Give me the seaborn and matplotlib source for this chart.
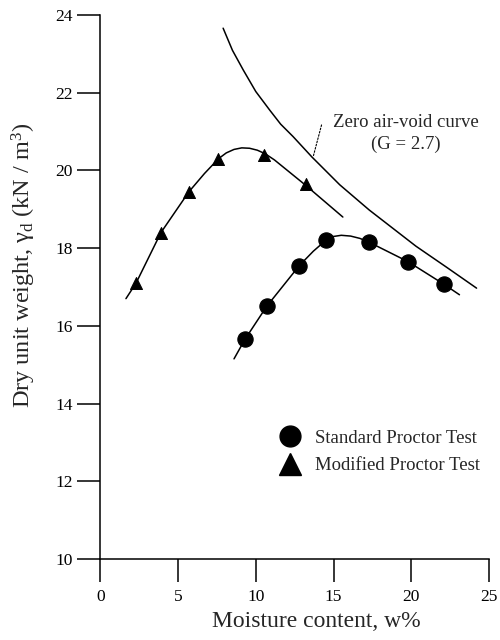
import matplotlib
matplotlib.use("Agg")
import matplotlib.pyplot as plt
from matplotlib.lines import Line2D
import seaborn as sns

# ---- data ----
std_w = [9.3, 10.7, 12.8, 14.5, 17.3, 19.8, 22.1]
std_gd = [15.65, 16.5, 17.55, 18.2, 18.15, 17.65, 17.07]

mod_w = [2.3, 3.9, 5.7, 7.6, 10.5, 13.2]
mod_gd = [17.1, 18.4, 19.45, 20.3, 20.4, 19.65]

std_curve_w = [8.6, 9.3, 10.7, 12.8, 13.7, 14.5, 15.0, 15.5, 16.1, 16.7, 17.3, 19.8, 22.1, 23.1]
std_curve_gd = [15.15, 15.65, 16.5, 17.55, 17.92, 18.2, 18.3, 18.33, 18.31, 18.25, 18.15, 17.65, 17.07, 16.8]

mod_curve_w = [1.65, 2.3, 3.9, 5.7, 6.7, 7.6, 8.1, 8.6, 9.1, 9.6, 10.1, 10.6, 11.2, 13.2, 15.6]
mod_curve_gd = [16.7, 17.1, 18.4, 19.45, 19.92, 20.3, 20.45, 20.54, 20.58, 20.57, 20.52, 20.43, 20.27, 19.62, 18.8]

zav_w = [7.9, 8.5, 9.2, 10.0, 10.9, 11.6, 12.4, 13.6, 15.4, 17.3, 20.3, 22.3, 24.2]
zav_gd = [23.66, 23.09, 22.58, 22.03, 21.55, 21.19, 20.87, 20.35, 19.63, 18.98, 18.05, 17.5, 16.97]

x_ticks = [0, 5, 10, 15, 20, 25]
y_ticks = [10, 12, 14, 16, 18, 20, 22, 24]

labels = ["Standard Proctor Test", "Modified Proctor Test"]
zav_label = "Zero air-void curve\n(G = 2.7)"

# ---- style ----
sns.set_theme(style="ticks")
plt.rcParams["font.family"] = ["Liberation Serif", "DejaVu Serif"]
plt.rcParams["mathtext.fontset"] = "custom"
plt.rcParams["mathtext.rm"] = "Liberation Serif"
plt.rcParams["mathtext.it"] = "Liberation Serif:italic"
plt.rcParams["axes.linewidth"] = 1.1
plt.rcParams["axes.edgecolor"] = "black"

fig = plt.figure(figsize=(5, 6.4), dpi=100)
ax = fig.add_axes([0.2006, 0.1266, 0.7774, 0.85])

lw = 1.1
sns.lineplot(x=zav_w, y=zav_gd, sort=False, estimator=None, color="black", lw=lw, ax=ax)
sns.lineplot(x=std_curve_w, y=std_curve_gd, sort=False, estimator=None, color="black", lw=lw, ax=ax)
sns.lineplot(x=mod_curve_w, y=mod_curve_gd, sort=False, estimator=None, color="black", lw=lw, ax=ax)

sns.scatterplot(x=std_w, y=std_gd, marker="o", s=120, color="black", edgecolor="black", ax=ax, zorder=3)
sns.scatterplot(x=mod_w, y=mod_gd, marker="^", s=75, color="black", edgecolor="black", ax=ax, zorder=3)

ax.set_xlim(0, 25)
ax.set_ylim(10, 24)
ax.set_xticks(x_ticks)
ax.set_yticks(y_ticks)
sns.despine(ax=ax)
ax.tick_params(axis="both", direction="out", length=16.5, width=1.1, colors="black", labelsize=12.5)
ax.tick_params(axis="y", pad=3.5)
ax.tick_params(axis="x", pad=5)

ax.set_xlabel("Moisture content, w%", fontsize=17)
ax.set_ylabel("Dry unit weight, γ$_\\mathrm{d}$ (kN / m$^3$)", fontsize=17.5)
ax.xaxis.set_label_coords(0.557, -0.095)
ax.yaxis.set_label_coords(-0.16, 0.54)

ax.text(19.65, 20.95, zav_label, ha="center", va="center", fontsize=13.5,
        multialignment="center", linespacing=1.38)
ax.annotate("", xy=(13.69, 20.35), xytext=(14.23, 21.17),
            arrowprops=dict(arrowstyle="-", ls=(0, (1.5, 1.5)), lw=0.8, color="black",
                            shrinkA=0, shrinkB=0))

handles = [Line2D([], [], ls="", marker="o", color="black", markersize=15),
           Line2D([], [], ls="", marker="^", color="black", markersize=16)]
ax.legend(handles, labels, loc="center left", bbox_to_anchor=(0.465, 0.197),
          frameon=False, fontsize=13.5, handlelength=1.0, handletextpad=0.8,
          labelspacing=0.55, borderpad=0, borderaxespad=0)

fig.savefig("out.png", dpi=100)
